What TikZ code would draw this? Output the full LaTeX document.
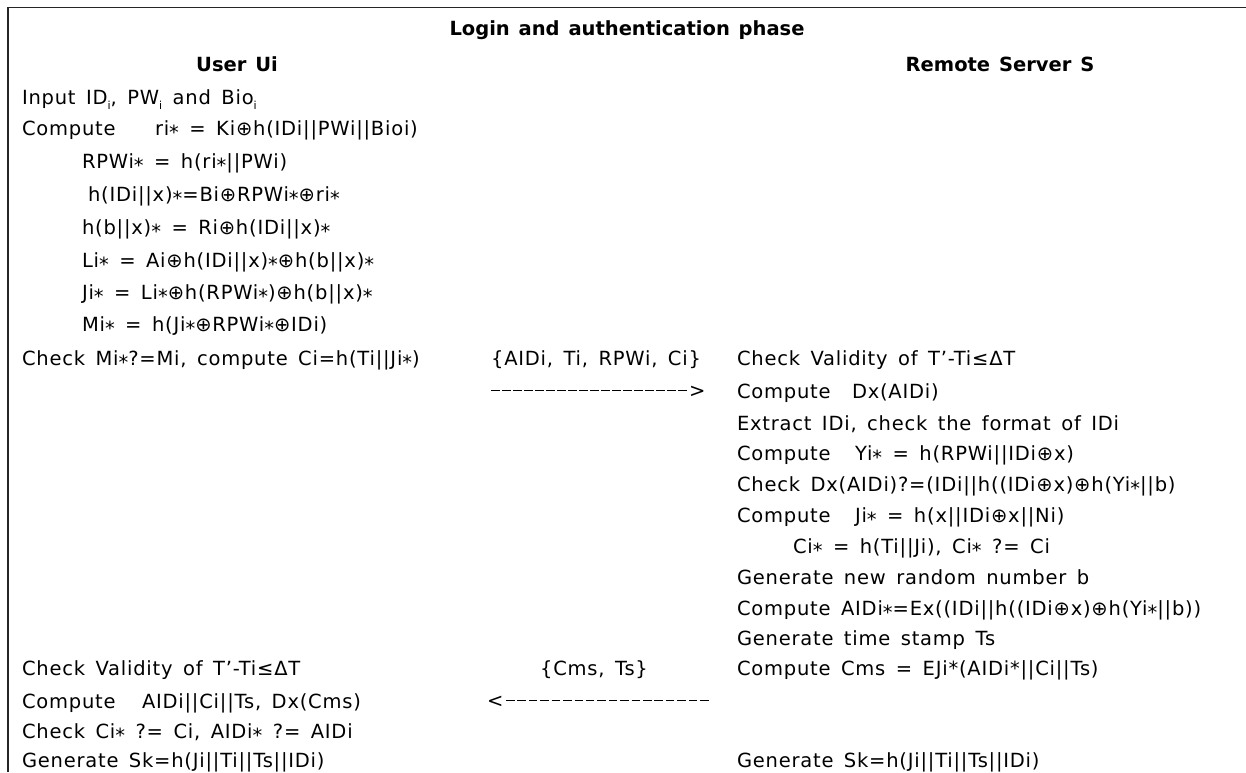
\documentclass[tikz,border=0pt]{standalone}
\usepackage{fontspec}
\setmainfont{DejaVu Sans}[LetterSpace=4, WordSpace=1.5]
\newfontfamily\headfont{DejaVu Sans}[WordSpace=1.3]
% low asterisk used in the protocol variables
\newcommand\sx{\raisebox{-0.25em}{*}}
% small lowered index
\newcommand\sbi[1]{\raisebox{-0.28em}{\fontsize{11}{11}\selectfont #1}}
% typed arrows built from evenly spaced dashes
\newcommand\dashrun[1]{\hbox to #1{\xleaders\hbox to 11pt{\hss\rule[6pt]{8.5pt}{1.1pt}\hss}\hfill}}
\newcommand\rightdash[1]{\dashrun{#1}\kern1pt>}
\newcommand\leftdash[1]{<\kern1pt\dashrun{#1}}

\begin{document}
\begin{tikzpicture}[x=1pt,y=-1pt,
  body/.style={font=\fontsize{19.5}{24}\selectfont},
  txt/.style={body, anchor=base west, inner sep=0pt, outer sep=0pt},
  msg/.style={body, anchor=base, inner sep=0pt, outer sep=0pt},
  head/.style={font=\headfont\bfseries\fontsize{19.5}{24}\selectfont, anchor=base, inner sep=0pt},
  frame/.style={line width=1.8pt, black!85}]
\useasboundingbox (0,0) rectangle (1246,772);
\clip (0,0) rectangle (1246,772);

% frame: top and left rules
\coordinate (fbl) at (8,772);
\coordinate (ftl) at (8,7.5);
\coordinate (ftr) at (1246,7.5);
\draw[frame] (fbl) -- (ftl) -- (ftr);

% headings
\node[head] (title) at (627,35) {Login and authentication phase};
\node[head] (user) at (237,71) {User Ui};
\node[head] (server) at (1000,71) {Remote Server S};

% user side
\node[txt] (u1) at (22,104) {Input ID\sbi{i}, PW\sbi{i} and Bio\sbi{i}};
\node[txt] (u2a) at (22,135) {Compute};
\node[txt] (u2b) at (155,135) {ri\sx{} = Ki⊕h(IDi||PWi||Bioi)};
\node[txt] (u3) at (82,168) {RPWi\sx{} = h(ri\sx||PWi)};
\node[txt] (u4) at (88,201) {h(IDi||x)\sx=Bi⊕RPWi\sx⊕ri\sx};
\node[txt] (u5) at (82,234) {h(b||x)\sx{} = Ri⊕h(IDi||x)\sx};
\node[txt] (u6) at (82,267) {Li\sx{} = Ai⊕h(IDi||x)\sx⊕h(b||x)\sx};
\node[txt] (u7) at (82,299) {Ji\sx{} = Li\sx⊕h(RPWi\sx)⊕h(b||x)\sx};
\node[txt] (u8) at (82,331) {Mi\sx{} = h(Ji\sx⊕RPWi\sx⊕IDi)};
\node[txt] (u9) at (22,365) {Check Mi\sx?=Mi, compute Ci=h(Ti||Ji\sx)};

\node[txt] (u10) at (22,675) {Check Validity of T’-Ti≤ΔT};
\node[txt] (u11a) at (22,708) {Compute};
\node[txt] (u11b) at (142,708) {AIDi||Ci||Ts, Dx(Cms)};
\node[txt] (u12) at (22,738) {Check Ci\sx{} ?= Ci, AIDi\sx{} ?= AIDi};
\node[txt] (u13) at (22,767) {Generate Sk=h(Ji||Ti||Ts||IDi)};

% messages
\node[msg] (m1) at (596,365) {\{AIDi, Ti, RPWi, Ci\}};
\node[txt] (m1a) at (490,397) {\rightdash{198pt}};
\node[msg] (m2) at (594,675) {\{Cms, Ts\}};
\node[txt] (m2a) at (487,707) {\leftdash{206pt}};

% server side
\node[txt] (s1) at (737,365) {Check Validity of T’-Ti≤ΔT};
\node[txt] (s2a) at (737,398) {Compute};
\node[txt] (s2b) at (852,398) {Dx(AIDi)};
\node[txt] (s3) at (737,430) {Extract IDi, check the format of IDi};
\node[txt] (s4a) at (737,460) {Compute};
\node[txt] (s4b) at (855,460) {Yi\sx{} = h(RPWi||IDi⊕x)};
\node[txt] (s5) at (737,491) {Check Dx(AIDi)?=(IDi||h((IDi⊕x)⊕h(Yi\sx||b)};
\node[txt] (s6a) at (737,522) {Compute};
\node[txt] (s6b) at (855,522) {Ji\sx{} = h(x||IDi⊕x||Ni)};
\node[txt] (s7) at (793,553) {Ci\sx{} = h(Ti||Ji), Ci\sx{} ?= Ci};
\node[txt] (s8) at (737,584) {Generate new random number b};
\node[txt] (s9) at (737,615) {Compute AIDi\sx=Ex((IDi||h((IDi⊕x)⊕h(Yi\sx||b))};
\node[txt] (s10) at (737,645) {Generate time stamp Ts};
\node[txt] (s11) at (737,675) {Compute Cms = EJi*(AIDi*||Ci||Ts)};
\node[txt] (s12) at (737,767) {Generate Sk=h(Ji||Ti||Ts||IDi)};
\end{tikzpicture}
\end{document}
